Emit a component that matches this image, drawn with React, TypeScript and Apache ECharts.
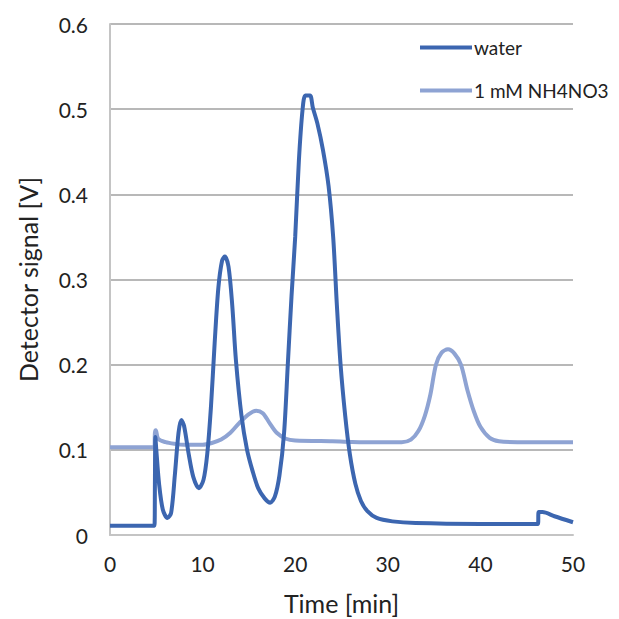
import React, { useEffect, useRef } from "react";
import * as echarts from "echarts";

const xTicks = [0, 10, 20, 30, 40, 50];
const yTicks = [0, 0.1, 0.2, 0.3, 0.4, 0.5, 0.6];

const waterSeries: [number, number][] = [
  [0, 0.011], [4.8, 0.011], [4.85, 0.06], [4.9, 0.115], [5.0, 0.1], [5.3, 0.06], [5.7, 0.03],
  [6.2, 0.02], [6.6, 0.026], [7.0, 0.07], [7.4, 0.12], [7.7, 0.135], [8.0, 0.128], [8.5, 0.095],
  [9.0, 0.068], [9.6, 0.055], [10.1, 0.065], [10.5, 0.095], [10.9, 0.15], [11.3, 0.225],
  [11.7, 0.29], [12.1, 0.322], [12.4, 0.327], [12.8, 0.315], [13.2, 0.27], [13.6, 0.205],
  [14.2, 0.14], [14.8, 0.1], [15.4, 0.075], [16.0, 0.055], [16.7, 0.043], [17.3, 0.038],
  [17.8, 0.045], [18.3, 0.07], [18.8, 0.12], [19.2, 0.2], [19.6, 0.28], [20.0, 0.35],
  [20.4, 0.44], [20.8, 0.5], [21.1, 0.516], [21.6, 0.516], [21.9, 0.502], [22.4, 0.483],
  [23.0, 0.452], [23.6, 0.41], [24.1, 0.35], [24.5, 0.27], [24.9, 0.2], [25.4, 0.14],
  [25.9, 0.095], [26.5, 0.06], [27.1, 0.04], [27.8, 0.028], [28.8, 0.02], [30.5, 0.016],
  [33, 0.014], [40, 0.013], [46.2, 0.013], [46.3, 0.027], [46.7, 0.027], [48, 0.022], [50, 0.015],
];

const nh4no3Series: [number, number][] = [
  [0, 0.103], [4.8, 0.103], [4.85, 0.12], [4.95, 0.123], [5.2, 0.113], [6, 0.109], [7, 0.107],
  [8, 0.106], [10, 0.106], [11, 0.108], [12, 0.112], [13, 0.12], [14, 0.132], [15, 0.142],
  [15.8, 0.146], [16.5, 0.143], [17.2, 0.132], [18, 0.12], [19, 0.113], [20, 0.111], [24, 0.11],
  [28, 0.109], [31.5, 0.109], [32.5, 0.112], [33.3, 0.122], [34.0, 0.14], [34.6, 0.165],
  [35.2, 0.2], [35.8, 0.214], [36.5, 0.218], [37.2, 0.213], [37.9, 0.2], [38.6, 0.17],
  [39.3, 0.145], [40, 0.127], [41, 0.114], [42, 0.11], [44, 0.109], [50, 0.109],
];

const seriesNames = ["water", "1 mM NH4NO3"];
const colors = ["#3c66b0", "#8ea3d3"];
const FONT = "Lato, 'Open Sans', sans-serif";

export default function App() {
  const ref = useRef<HTMLDivElement>(null);
  useEffect(() => {
    if (!ref.current) return;
    const chart = echarts.init(ref.current, undefined, { renderer: "svg" });
    const legendBase = {
      orient: "horizontal",
      left: 415,
      itemWidth: 52,
      itemHeight: 4,
      itemGap: 2,
      icon: "rect",
      textStyle: { fontFamily: FONT, fontSize: 19, color: "#222", padding: [0, 0, 0, -3] },
    };
    chart.setOption({
      animation: false,
      backgroundColor: "#ffffff",
      grid: { left: 110, right: 46, top: 24, bottom: 84, outerBoundsMode: "none", containLabel: false },
      legend: [
        { ...legendBase, top: 33, data: [{ name: seriesNames[0], itemStyle: { color: colors[0] } }] },
        { ...legendBase, top: 76, data: [{ name: seriesNames[1], itemStyle: { color: colors[1] } }] },
      ],
      xAxis: {
        type: "value",
        min: xTicks[0],
        max: xTicks[xTicks.length - 1],
        interval: 10,
        name: "Time [min]",
        nameLocation: "middle",
        nameGap: 55,
        nameTextStyle: { fontFamily: FONT, fontSize: 25, color: "#222" },
        axisLine: { show: true, lineStyle: { color: "#c4c4c4", width: 2 } },
        axisTick: { show: false },
        splitLine: { show: false },
        axisLabel: { fontFamily: FONT, fontSize: 21, color: "#222", margin: 18 },
      },
      yAxis: {
        type: "value",
        min: yTicks[0],
        max: yTicks[yTicks.length - 1],
        interval: 0.1,
        name: "Detector signal [V]",
        nameLocation: "middle",
        nameGap: 70,
        nameTextStyle: { fontFamily: FONT, fontSize: 25, color: "#222" },
        axisLine: { show: true, lineStyle: { color: "#c4c4c4", width: 2 } },
        axisTick: { show: false },
        splitLine: { show: true, lineStyle: { color: "#a0a0a0", width: 1.5 } },
        axisLabel: {
          fontFamily: FONT,
          fontSize: 21,
          color: "#222",
          margin: 22,
          formatter: (v: number) => (v === 0 ? "0" : v.toFixed(1)),
        },
      },
      series: [
        {
          name: seriesNames[1],
          type: "line",
          data: nh4no3Series,
          showSymbol: false,
          symbol: "none",
          smooth: 0.3,
          lineStyle: { color: colors[1], width: 4 },
          itemStyle: { color: colors[1] },
          z: 2,
        },
        {
          name: seriesNames[0],
          type: "line",
          data: waterSeries,
          showSymbol: false,
          symbol: "none",
          smooth: 0.3,
          lineStyle: { color: colors[0], width: 4 },
          itemStyle: { color: colors[0] },
          z: 3,
        },
      ],
    });
    return () => chart.dispose();
  }, []);
  return (
    <div
      ref={ref}
      style={{ position: "fixed", left: 0, top: 0, width: 619, height: 619 }}
    />
  );
}
